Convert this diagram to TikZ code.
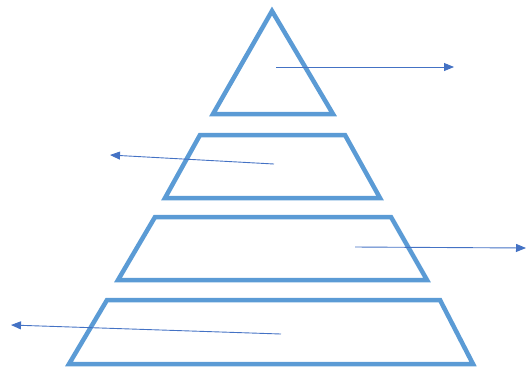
\documentclass[tikz,border=0pt]{standalone}
\usepackage{tikz}
\usetikzlibrary{arrows.meta}
\definecolor{stufenblau}{RGB}{91,155,213}
\definecolor{pfeilblau}{RGB}{68,114,196}
\begin{document}
\begin{tikzpicture}[x=1pt, y=-1pt,
			stufe/.style={draw=stufenblau, line width=4.5pt, line join=miter},
			pfeil/.style={draw=pfeilblau, line width=0.9pt, -{Triangle[length=10pt, width=8pt]}}]
			% Bildbereich
			\useasboundingbox (0,0) rectangle (526,368);
			% Stufen der Pyramide
			\draw[stufe] (272,11) -- (333,114) -- (213,114) -- cycle;
			\draw[stufe] (200,135) -- (345,135) -- (380,198) -- (165,198) -- cycle;
			\draw[stufe] (155,217) -- (391,217) -- (427,280) -- (118,280) -- cycle;
			\draw[stufe] (107,300) -- (440,300) -- (473,364) -- (69,364) -- cycle;
			% Pfeile
			\coordinate (s1) at (276,67);  \coordinate (z1) at (454,67);
			\coordinate (s2) at (274,164); \coordinate (z2) at (110,155);
			\coordinate (s3) at (355,247); \coordinate (z3) at (526,248);
			\coordinate (s4) at (281,334); \coordinate (z4) at (11,325);
			\foreach \i in {1,...,4} \draw[pfeil] (s\i) -- (z\i);
		\end{tikzpicture}
\end{document}
